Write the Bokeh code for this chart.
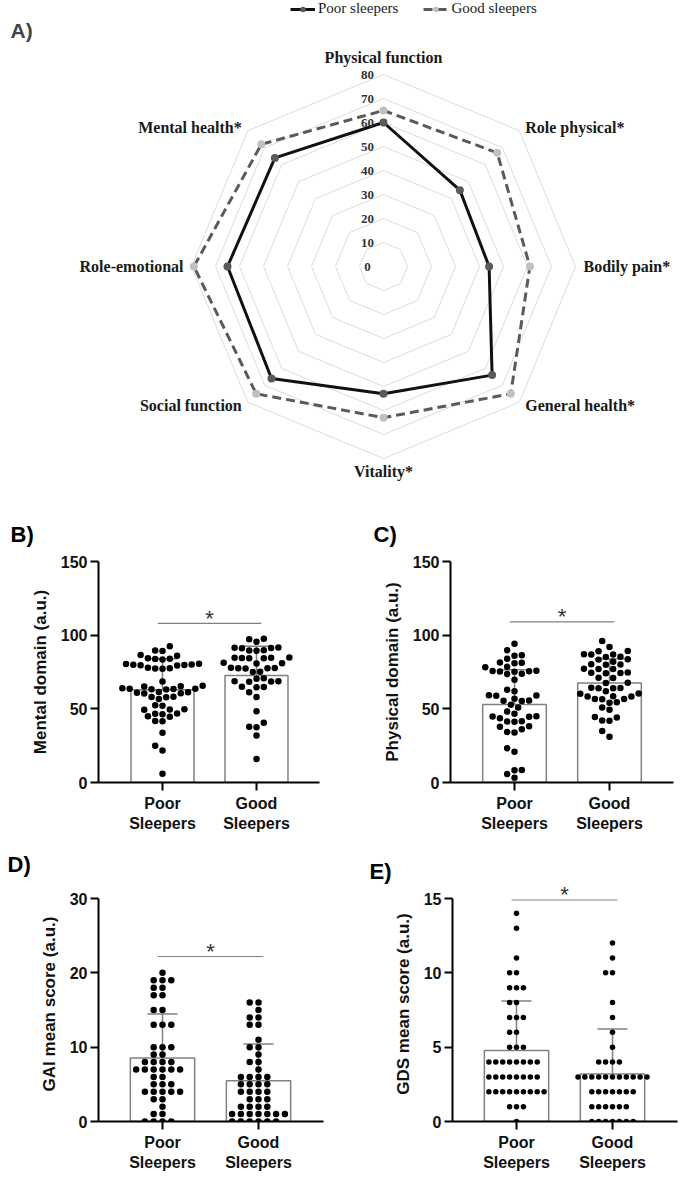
import math
from bokeh.plotting import figure
from bokeh.models import Range1d, FixedTicker, Label, Legend, LegendItem
from bokeh.layouts import column, row
from bokeh.embed import file_html
from bokeh.resources import INLINE
from bokeh.core.properties import value

# ---------------- data ----------------
domains = ["Physical function", "Role physical*", "Bodily pain*", "General health*",
           "Vitality*", "Social function", "Role-emotional", "Mental health*"]
poor_sf36 = [60, 45, 44, 64, 53, 66, 65, 64]
good_sf36 = [65, 67, 61, 75, 63, 75, 79, 72]
radar_ticks = [0, 10, 20, 30, 40, 50, 60, 70, 80]
series_names = ["Poor sleepers", "Good sleepers"]

groups = ["Poor\nSleepers", "Good\nSleepers"]

mental_poor = [92.5, 89.6, 89.2, 86.5, 86.0, 84.3, 84.0, 83.8, 83.5, 80.6, 80.4, 80.1, 80.0,
               79.8, 79.6, 79.4, 77.8, 77.6, 77.4, 77.2, 68.6, 65.6, 65.4, 65.2, 63.9, 63.7,
               63.6, 63.5, 63.3, 63.1, 61.5, 61.3, 61.0, 60.6, 60.4, 58.2, 58.0, 57.8, 56.6,
               52.5, 52.1, 49.8, 49.6, 49.3, 46.8, 46.6, 46.3, 44.9, 44.6, 41.8, 41.5, 33.7,
               25.0, 21.7, 5.9]
mental_good = [97.5, 97.3, 95.5, 91.6, 91.4, 91.3, 91.1, 89.8, 89.6, 89.4, 84.8, 84.7, 84.6,
               84.5, 84.4, 84.3, 81.2, 81.0, 80.8, 77.8, 77.7, 77.6, 77.5, 77.4, 75.2, 75.0,
               70.8, 70.5, 68.8, 68.7, 68.5, 68.4, 65.0, 64.8, 64.6, 61.3, 58.0, 48.4, 40.5,
               37.8, 37.5, 31.9, 16.0]
mental_mean = [62.9, 72.6]
mental_sd = [21.1, 19.9]

physical_poor = [94.2, 89.8, 86.4, 86.1, 84.0, 81.4, 81.2, 81.0, 78.5, 78.3, 75.8, 75.6, 75.5,
                 75.4, 75.2, 73.8, 73.6, 69.8, 63.0, 61.9, 59.3, 59.1, 58.9, 56.9, 55.7, 55.5,
                 55.3, 52.8, 50.9, 48.2, 46.6, 45.0, 44.8, 44.6, 43.6, 41.6, 41.4, 41.2, 38.1,
                 37.9, 36.2, 34.2, 34.0, 23.2, 20.9, 8.5, 8.3, 5.7, 3.2]
physical_good = [96.0, 92.0, 89.3, 89.1, 87.0, 86.9, 86.8, 85.4, 85.2, 83.6, 83.4, 81.9, 80.2,
                 80.1, 80.0, 77.2, 77.1, 77.0, 74.6, 74.5, 74.3, 74.2, 71.1, 70.9, 67.7, 67.5,
                 64.3, 64.2, 64.0, 63.9, 61.9, 60.4, 60.2, 58.5, 58.4, 58.3, 56.7, 56.6, 56.5,
                 54.4, 54.2, 50.9, 49.3, 44.4, 44.2, 42.1, 41.9, 35.0, 31.1]
physical_mean = [53.0, 67.6]
physical_sd = [23.6, 16.4]

gai_poor = [20, 19, 19, 19, 18, 18, 17, 17, 15, 15, 13, 13, 13, 10, 10, 10, 9, 9, 8, 8, 8, 8,
            7, 7, 7, 7, 7, 7, 6, 6, 5, 5, 5, 4, 4, 4, 4, 4, 3, 3, 2, 1, 1, 0, 0, 0, 0]
gai_good = [16, 16, 15, 14, 14, 13, 13, 11, 10, 10, 9, 8, 8, 7, 6, 6, 6, 6, 5, 5, 5, 5,
            4, 4, 4, 4, 3, 3, 3, 2, 2, 2, 2, 1, 1, 1, 1, 1, 1, 1, 0, 0, 0, 0, 0, 0]
gai_mean = [8.53, 5.48]
gai_sd = [5.93, 4.94]

gds_poor = [14, 13, 11, 10, 10, 9, 9, 9, 8, 8, 7, 7, 7, 6, 6, 5, 5, 5,
            4, 4, 4, 4, 4, 4, 4, 4, 3, 3, 3, 3, 3, 3, 3, 3,
            2, 2, 2, 2, 2, 2, 2, 2, 2, 1, 1, 1, 0]
gds_good = [12, 11, 10, 10, 8, 7, 6, 5, 4, 4, 4, 4,
            3, 3, 3, 3, 3, 3, 3, 3, 3, 3, 3, 2, 2, 2, 2, 2, 2, 2,
            1, 1, 1, 1, 1, 1, 0, 0, 0, 0, 0, 0, 0]
gds_mean = [4.77, 3.2]
gds_sd = [3.33, 3.02]

sig_levels = [108, 109, 22.2, 14.9]

SERIF = "Liberation Serif"
SANS = "Liberation Sans"

# ---------------- radar (A) ----------------
PPU = 2.4
W_A, H_A = 687, 482
CX, CY = 383, 266
pa = figure(width=W_A, height=H_A,
            x_range=Range1d(-CX / PPU, (W_A - CX) / PPU),
            y_range=Range1d(-(H_A - CY) / PPU, CY / PPU),
            x_axis_location=None, y_axis_location=None,
            output_backend="svg", toolbar_location=None, min_border=0)
pa.grid.visible = False
pa.outline_line_color = None

n = len(domains)
ang = [2 * math.pi * i / n for i in range(n)]


def polar(vals):
    xs = [v * math.sin(a) for v, a in zip(vals, ang)]
    ys = [v * math.cos(a) for v, a in zip(vals, ang)]
    return xs, ys


rx, ry = [], []
for t in radar_ticks[1:]:
    xs, ys = polar([t] * n)
    rx.append(xs + [xs[0]])
    ry.append(ys + [ys[0]])
pa.multi_line(rx, ry, line_color="#dcdcdc", line_width=1)

gx, gy = polar(good_sf36)
good_line = pa.line(gx + [gx[0]], gy + [gy[0]], line_color="#5a5a5a", line_width=3,
                    line_dash="9 5")
good_pts = pa.scatter(gx, gy, size=8, fill_color="#c0c0c0", line_color=None)
px_, py_ = polar(poor_sf36)
poor_line = pa.line(px_ + [px_[0]], py_ + [py_[0]], line_color="#111111", line_width=3)
poor_pts = pa.scatter(px_, py_, size=8, fill_color="#5a5a5a", line_color=None)

pa.text(x=[0] * len(radar_ticks), y=radar_ticks, text=[str(t) for t in radar_ticks],
        x_offset=-16, text_align="center", text_baseline="middle",
        text_font=value(SERIF), text_font_style="bold", text_font_size="13px",
        text_color="#333333")

rmax = radar_ticks[-1]
vx, vy = polar([rmax] * n)
for lab, a, x, y in zip(domains, ang, vx, vy):
    s, c = math.sin(a), math.cos(a)
    if abs(s) < 0.1:
        align, xo, yo = "center", 0, (-17 if c > 0 else 13)
    else:
        align = "left" if s > 0 else "right"
        xo = (8 if abs(c) < 0.1 else 6) * (1 if s > 0 else -1)
        yo = -5 * c
    pa.text(x=[x], y=[y], text=[lab], x_offset=xo, y_offset=yo, text_align=align,
            text_baseline="middle", text_font=value(SERIF), text_font_style="bold",
            text_font_size="16px", text_color="#1a1a1a")

legend = Legend(items=[LegendItem(label=series_names[0], renderers=[poor_line, poor_pts]),
                       LegendItem(label=series_names[1], renderers=[good_line, good_pts])],
                orientation="horizontal", location=(290, H_A - 17),
                label_text_font=SERIF, label_text_font_size="15px",
                label_text_color="#1a1a1a", glyph_width=25, glyph_height=14,
                label_standoff=3, spacing=25, padding=0, margin=0,
                border_line_color=None, background_fill_alpha=0, label_height=14)
pa.add_layout(legend)
pa.add_layout(Label(x=(10 - CX) / PPU, y=(CY - 30) / PPU, text="A)",
                    text_font=SANS, text_font_style="bold", text_font_size="21px",
                    text_baseline="middle", text_align="left"))


# ---------------- bar + dot panels ----------------
def swarm(vals, ppx, ppy, step, gap):
    placed = []
    offs = [0.0] * len(vals)
    order = sorted(range(len(vals)), key=lambda i: vals[i])
    for i in order:
        y = vals[i] * ppy
        k = 0
        chosen = None
        while chosen is None:
            cands = [0.0] if k == 0 else [-k * step / 2, k * step / 2]
            for cx in cands:
                if all((cx - qx) ** 2 + (y - qy) ** 2 >= gap ** 2 for qx, qy in placed):
                    chosen = cx
                    break
            k += 1
        placed.append((chosen, y))
        offs[i] = chosen / ppx
    return offs


def bar_panel(ylabel, ymax, yticks, poor, good, means, sds, sig_y, letter,
              fw, fh, lb, rb, tb, bb, ppx, letter_dx, letter_standoff,
              dot_size, step, gap, extra_top=0):
    ppy = fh / ymax
    x0 = 1 - 64 / ppx
    p = figure(frame_width=fw, frame_height=fh + extra_top,
               x_range=Range1d(x0, x0 + fw / ppx),
               y_range=Range1d(0, ymax + extra_top / ppy),
               min_border_left=lb, min_border_right=rb, min_border_top=tb - extra_top,
               min_border_bottom=bb, output_backend="svg", toolbar_location=None)
    p.grid.visible = False
    p.outline_line_color = None
    xs = [1, 2]
    p.vbar(x=xs, top=means, width=0.67, bottom=0, fill_color="white",
           line_color="#808080", line_width=1.5)
    tops = [m + s for m, s in zip(means, sds)]
    p.segment(x0=xs, y0=means, x1=xs, y1=tops, line_color="#808080", line_width=1.5)
    cap = 15 / ppx
    p.segment(x0=[x - cap for x in xs], y0=tops, x1=[x + cap for x in xs], y1=tops,
              line_color="#808080", line_width=1.5)
    for xc, vals in zip(xs, [poor, good]):
        offs = swarm(vals, ppx, ppy, step, gap)
        p.scatter(x=[xc + o for o in offs], y=vals, size=dot_size, fill_color="black",
                  line_color=None)
    p.line([0.95, 2.05], [sig_y, sig_y], line_color="#808080", line_width=1.2)
    p.text(x=[1.5], y=[sig_y], text=["*"], text_align="center", text_baseline="alphabetic",
           y_offset=-5, text_font=value(SANS), text_font_size="22px", text_color="#333333")

    for ax in (p.xaxis[0], p.yaxis[0]):
        ax.axis_line_width = 2
        ax.axis_line_color = "black"
        ax.major_tick_line_width = 2
        ax.major_tick_line_color = "black"
        ax.major_tick_out = 8
        ax.major_tick_in = 0
        ax.minor_tick_line_color = None
        ax.major_label_text_font = SANS
        ax.major_label_text_font_style = "bold"
        ax.major_label_text_font_size = "16px"
        ax.major_label_text_color = "#111111"
    p.xaxis.ticker = FixedTicker(ticks=xs)
    p.xaxis.major_label_overrides = {1: groups[0], 2: groups[1]}
    p.xaxis.major_label_standoff = 4
    p.yaxis.ticker = FixedTicker(ticks=yticks)
    p.yaxis.bounds = (0, ymax)
    p.yaxis.major_label_standoff = 3
    p.yaxis.axis_label = ylabel
    p.yaxis.axis_label_text_font = SANS
    p.yaxis.axis_label_text_font_style = "bold"
    p.yaxis.axis_label_text_font_size = "17px"
    p.yaxis.axis_label_text_color = "#111111"
    p.yaxis.axis_label_standoff = 8

    p.title.text = letter
    p.title.align = "left"
    p.title.offset = letter_dx
    p.title.standoff = letter_standoff
    p.title.text_font = SANS
    p.title.text_font_style = "bold"
    p.title.text_font_size = "22px"
    p.title.text_color = "black"
    return p


pb = bar_panel("Mental domain (a.u.)", 150, [0, 50, 100, 150], mental_poor, mental_good,
               mental_mean, mental_sd, sig_levels[0], "B)",
               221, 221, 98, 24, 79, 57, 94, -88, 30, 6.5, 7.3, 7.0)
pc = bar_panel("Physical domain (a.u.)", 150, [0, 50, 100, 150], physical_poor, physical_good,
               physical_mean, physical_sd, sig_levels[1], "C)",
               223, 221, 107, 14, 79, 57, 95, -77, 30, 6.5, 7.3, 7.0)
pd = bar_panel("GAI mean score (a.u.)", 30, [0, 10, 20, 30], gai_poor, gai_good,
               gai_mean, gai_sd, sig_levels[2], "D)",
               225, 223, 98, 20, 58, 61, 96, -91, 20, 6.5, 8.8, 7.0, extra_top=12)
pe = bar_panel("GDS mean score (a.u.)", 15, [0, 5, 10, 15], gds_poor, gds_good,
               gds_mean, gds_sd, sig_levels[3], "E)",
               225, 223, 109, 10, 58, 61, 96, -83, 6, 5.5, 6.9, 6.0, extra_top=12)

layout = column(pa, row(pb, pc), row(pd, pe))
open("out.html", "w").write(file_html(layout, INLINE))
